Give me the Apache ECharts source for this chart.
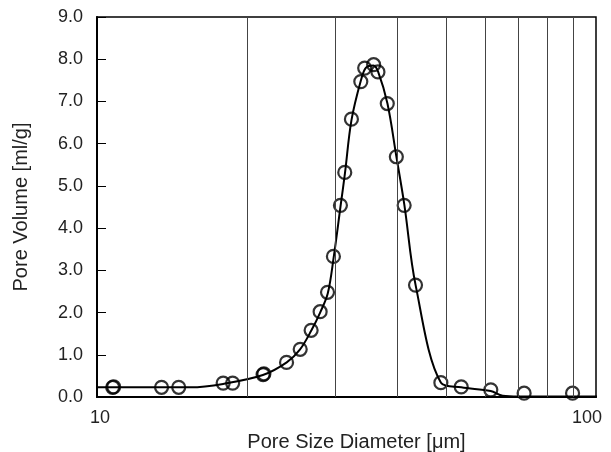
<!DOCTYPE html>
<html><head><meta charset="utf-8">
<script src="https://cdn.jsdelivr.net/npm/echarts@6/dist/echarts.min.js"></script>
<style>html,body{margin:0;padding:0;background:#fff}#c{width:611px;height:452px}</style>
</head><body><div id="c"></div>
<script>
// measured points (pore diameter µm, pore volume ml/g)
var pointX = [10.75, 10.8, 13.47, 14.58, 17.9, 18.7, 21.52, 21.6, 23.98, 25.54, 26.86, 28.0, 28.97, 29.77, 30.75, 31.37, 32.35, 33.78, 34.39, 35.84, 36.56, 38.17, 39.8, 41.26, 43.48, 48.88, 53.69, 61.54, 71.77, 89.75];
var pointY = [0.23, 0.24, 0.23, 0.23, 0.33, 0.33, 0.53, 0.55, 0.82, 1.13, 1.58, 2.02, 2.48, 3.33, 4.54, 5.32, 6.58, 7.47, 7.79, 7.87, 7.70, 6.95, 5.69, 4.54, 2.65, 0.34, 0.24, 0.17, 0.09, 0.09];
// fitted curve
var curveX = [9.74, 15.4, 17.9, 21.5, 24.0, 25.5, 26.9, 28.0, 29.0, 29.8, 30.75, 31.4, 32.35, 33.8, 34.6, 35.8, 36.6, 38.2, 39.8, 41.3, 43.5, 48.9, 53.7, 61.5, 65.0, 70.0, 105.0];
var curveY = [0.23, 0.23, 0.31, 0.52, 0.82, 1.12, 1.58, 2.0, 2.45, 3.3, 4.5, 5.3, 6.55, 7.5, 7.8, 7.85, 7.7, 6.95, 5.7, 4.55, 2.65, 0.34, 0.23, 0.14, 0.03, 0.01, 0.01];
var gridLinesX = [20, 30, 40, 50, 60, 70, 80, 90];
var xTickLabels = [10, 100];
var yMin = 0, yMax = 9, yStep = 1;

var pts = pointX.map(function (x, i) { return [x, pointY[i]]; });
var crv = curveX.map(function (x, i) { return [x, curveY[i]]; });
var font = 'Liberation Sans, Arial, sans-serif';

var chart = echarts.init(document.getElementById('c'));
chart.setOption({
  animation: false,
  backgroundColor: '#fff',
  grid: { left: 97, right: 15, top: 17, bottom: 55, containLabel: false, outerBoundsMode: 'none',
    show: true, borderColor: '#000', borderWidth: 1.5, backgroundColor: 'transparent' },
  xAxis: {
    type: 'log', logBase: 10, min: 10, max: 100,
    name: 'Pore Size Diameter [μm]', nameLocation: 'middle', nameGap: 35,
    nameTextStyle: { fontFamily: font, fontSize: 20, color: '#222', padding: [0, 0, 0, 20] },
    axisLine: { lineStyle: { color: '#000', width: 2 } },
    axisTick: { show: false },
    splitLine: { show: false },
    axisLabel: { fontFamily: font, fontSize: 18, color: '#222', margin: 12, hideOverlap: false,
      formatter: function (v) {
        var r = Math.round(v);
        if (xTickLabels.indexOf(r) < 0) return '';
        return r === 100 ? '{r|' + r + '}' : '{l|' + r + '}';
      },
      rich: {
        l: { fontFamily: font, fontSize: 18, color: '#222', padding: [0, 0, 0, 6] },
        r: { fontFamily: font, fontSize: 18, color: '#222', padding: [0, 18, 0, 0] }
      } }
  },
  yAxis: {
    type: 'value', min: yMin, max: yMax, interval: yStep,
    name: 'Pore Volume [ml/g]', nameLocation: 'middle', nameGap: 66,
    nameTextStyle: { fontFamily: font, fontSize: 20, color: '#222' },
    axisLine: { show: true, lineStyle: { color: '#000', width: 2 } },
    axisTick: { show: true, inside: true, length: 9, lineStyle: { color: '#000', width: 1 } },
    splitLine: { show: false },
    axisLabel: { fontFamily: font, fontSize: 18, color: '#222', margin: 14,
      formatter: function (v) { return v.toFixed(1); } }
  },
  series: [
    {
      type: 'line', data: crv, smooth: 0.35, showSymbol: false, symbol: 'none', clip: false,
      lineStyle: { color: '#000', width: 2 },
      markLine: {
        silent: true, symbol: 'none', label: { show: false },
        lineStyle: { color: '#444', width: 1, type: 'solid' },
        data: gridLinesX.map(function (v) { return { xAxis: v }; })
      },
      z: 3
    },
    {
      type: 'scatter', data: pts, symbol: 'circle', symbolSize: 13, clip: false,
      itemStyle: { color: 'rgba(255,255,255,0)', borderColor: '#000', borderWidth: 2.2 },
      z: 4
    }
  ]
});
</script>
</body></html>
